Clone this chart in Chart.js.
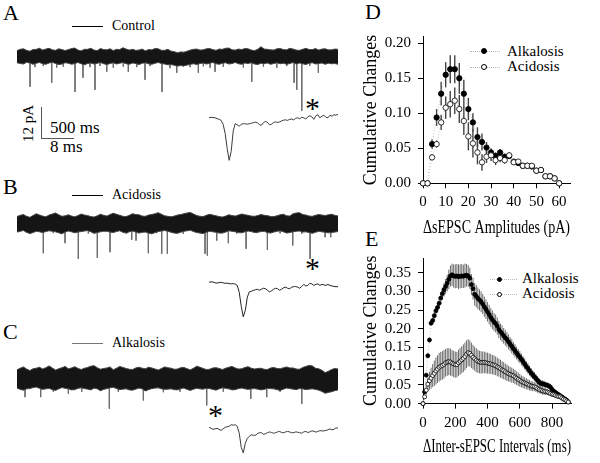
<!DOCTYPE html>
<html>
<head>
<meta charset="utf-8">
<script src="https://cdn.jsdelivr.net/npm/chart.js@4.4.1/dist/chart.umd.min.js"></script>
<style>
  html, body { margin: 0; padding: 0; background: #fff; }
  #fig { position: relative; width: 600px; height: 463px; overflow: hidden;
         font-family: 'Liberation Serif', 'Times New Roman', serif; color: #000; }
  #fig canvas { position: absolute; }
  .t { position: absolute; white-space: nowrap; line-height: 1; }
  .panel { font-size: 22px; }
  .cond { font-size: 14px; }
  .star { font-size: 30px; }
  .bar { font-size: 17px; }
  .lg { font-size: 15px; }
  .hl { position: absolute; height: 0; border-top: 1px solid #000; }
  .vl { position: absolute; width: 0; border-left: 1px solid #555; }
  .dots { position: absolute; height: 0; border-top: 1px dotted #b8b8b8; }
  .dot { position: absolute; border-radius: 50%; box-sizing: border-box; border: 1px solid #000; }
</style>
</head>
<body>
<div id="fig">
  <div class="t panel" style="left:3px;top:2px">A</div>
  <div class="t panel" style="left:3px;top:176px">B</div>
  <div class="t panel" style="left:3px;top:321px">C</div>
  <div class="t panel" style="left:365px;top:1px">D</div>
  <div class="t panel" style="left:365px;top:228px">E</div>

  <div class="hl" style="left:72px;top:26px;width:31px"></div>
  <div class="t cond" style="left:112px;top:19px">Control</div>
  <div class="hl" style="left:72px;top:195px;width:31px"></div>
  <div class="t cond" style="left:112px;top:188px">Acidosis</div>
  <div class="hl" style="left:72px;top:343px;width:31px;border-color:#777"></div>
  <div class="t cond" style="left:112px;top:336px">Alkalosis</div>

  <div class="t star" style="left:305px;top:93px">*</div>
  <div class="t star" style="left:305px;top:253px">*</div>
  <div class="t star" style="left:208px;top:400px">*</div>

  <div class="vl" style="left:41px;top:107px;height:31px"></div>
  <div class="hl" style="left:41px;top:138px;width:33px;border-color:#555"></div>
  <div class="t bar" style="left:50px;top:119px">500 ms</div>
  <div class="t bar" style="left:50px;top:138px">8 ms</div>
  <div class="t" style="left:8px;top:116px;width:40px;font-size:15px;text-align:center;transform:rotate(-90deg)">12 pA</div>

  <div class="dots" style="left:470px;top:51px;width:30px"></div>
  <div class="dot" style="left:481px;top:48px;width:6px;height:6px;background:#000"></div>
  <div class="t lg" style="left:507px;top:44px">Alkalosis</div>
  <div class="dots" style="left:470px;top:67px;width:30px"></div>
  <div class="dot" style="left:481px;top:64px;width:6px;height:6px;background:#fff"></div>
  <div class="t lg" style="left:507px;top:59px">Acidosis</div>

  <div class="dots" style="left:490px;top:279px;width:27px"></div>
  <div class="dot" style="left:497px;top:277px;width:5px;height:5px;background:#000"></div>
  <div class="t lg" style="left:522px;top:271px">Alkalosis</div>
  <div class="dots" style="left:490px;top:294px;width:27px"></div>
  <div class="dot" style="left:497px;top:292px;width:5px;height:5px;background:#fff"></div>
  <div class="t lg" style="left:522px;top:286px">Acidosis</div>

  <canvas id="traceA" width="321" height="88" style="left:17px;top:31px"></canvas>
  <canvas id="traceB" width="321" height="88" style="left:17px;top:198px"></canvas>
  <canvas id="traceC" width="321" height="88" style="left:17px;top:353px"></canvas>
  <canvas id="insetA" width="129" height="57" style="left:209px;top:108px"></canvas>
  <canvas id="insetB" width="129" height="57" style="left:209px;top:272px"></canvas>
  <canvas id="insetC" width="129" height="57" style="left:209px;top:418px"></canvas>
  <canvas id="chartD" width="240" height="240" style="left:360px;top:0px"></canvas>
  <canvas id="chartE" width="240" height="223" style="left:360px;top:240px"></canvas>
</div>
<script>
// ---- traces (5 s sweeps, pA), noise envelope every 50 ms ----
const traceMs = 5000
const envStepMs = 50

const controlUpper = [2.4,2.9,3.1,2.5,2.2,2.8,2.9,3.3,2.6,3.0,3.3,2.7,2.5,3.1,2.8,2.4,2.8,3.2,3.4,2.6,2.3,2.9,2.9,3.3,2.6,2.4,3.2,2.8,2.7,3.1,2.4,2.9,2.8,3.5,3.0,2.6,2.9,2.5,2.6,3.0,2.3,2.8,2.7,3.2,3.1,2.5,2.5,2.9,2.2,2.0,1.6,1.9,1.8,2.2,2.6,2.9,3.0,2.6,2.7,3.1,3.2,2.8,2.5,3.0,2.9,3.3,3.4,2.7,2.6,3.0,2.8,3.2,3.1,2.6,2.4,2.9,3.9,3.0,2.9,2.7,2.6,3.1,3.2,2.8,2.7,3.3,3.0,2.6,2.5,2.9,3.3,2.8,2.8,3.2,2.6,3.0,3.1,2.7,2.7,3.0,2.9]
const controlLower = [-2.3,-2.6,-2.8,-2.1,-2.4,-2.9,-2.5,-2.2,-2.7,-2.9,-2.4,-2.1,-2.6,-3.0,-2.8,-2.3,-2.5,-2.9,-2.6,-2.2,-2.7,-3.1,-2.6,-2.4,-2.8,-2.5,-2.2,-2.7,-3.0,-2.6,-2.3,-2.8,-2.5,-2.2,-2.7,-2.9,-2.4,-2.6,-3.0,-2.5,-2.3,-2.7,-2.9,-2.5,-2.2,-2.6,-2.8,-3.1,-3.0,-3.3,-3.6,-3.4,-3.5,-3.2,-2.9,-2.7,-3.0,-2.6,-2.4,-2.8,-2.5,-2.2,-2.7,-2.9,-2.5,-2.3,-2.8,-2.6,-2.2,-2.7,-2.9,-2.4,-2.6,-2.3,-2.8,-3.0,-2.5,-2.7,-2.4,-2.9,-2.6,-2.3,-2.7,-2.5,-2.9,-2.6,-2.2,-2.8,-2.4,-2.7,-3.0,-2.5,-2.3,-2.8,-2.6,-2.4,-2.9,-2.5,-2.7,-2.6,-2.9]
const controlSpikeMs = [203,280,410,541,618,721,904,1028,1137,1215,1293,1398,1500,1656,1734,1865,1994,2072,2259,2384,2488,2591,2695,2825,2903,3007,3085,3214,3526,3657,3838,4046,4202,4316,4358,4436,4560,4694]
const controlSpikePA = [11.6,4.0,3.6,10.1,4.2,3.8,13.6,8.1,4.0,12.8,3.5,5.8,4.2,3.8,5.8,4.0,8.9,3.6,13.6,4.4,6.2,3.8,4.0,6.2,3.7,4.2,5.8,3.9,4.1,9.7,3.8,4.3,3.6,10.1,12.8,20.9,3.5,6.2]

const acidUpper = [2.8,3.3,3.6,2.9,2.5,3.2,3.9,3.4,3.0,2.7,3.4,3.8,4.2,3.5,2.9,3.1,3.5,3.0,2.7,3.2,3.8,3.4,3.2,2.8,2.6,3.1,3.7,3.3,3.0,3.6,4.1,3.7,3.3,2.9,2.8,3.3,3.9,3.6,3.5,3.0,2.9,3.4,3.6,3.9,4.3,3.7,3.1,2.9,2.7,3.0,3.4,3.6,3.9,4.2,4.4,3.8,3.2,2.9,2.8,3.3,3.7,3.4,3.1,2.8,2.6,3.0,3.5,3.2,3.0,3.4,3.8,3.5,3.3,3.0,2.9,3.2,3.6,3.3,3.2,2.8,2.8,3.1,3.5,3.7,3.1,3.0,3.9,4.2,4.3,3.6,3.4,3.0,2.9,3.3,3.6,3.4,3.2,3.5,3.7,3.3,3.0]
const acidLower = [-3.2,-2.9,-2.6,-3.3,-3.8,-3.4,-2.9,-3.1,-3.4,-3.0,-2.7,-2.9,-3.1,-3.5,-3.9,-3.2,-2.8,-3.1,-3.5,-3.2,-3.0,-2.8,-2.6,-3.1,-3.7,-3.4,-3.1,-2.9,-2.9,-3.2,-3.4,-3.0,-2.7,-3.3,-3.6,-3.1,-2.8,-3.2,-3.6,-3.3,-3.2,-3.6,-3.9,-3.4,-3.0,-2.8,-2.6,-2.9,-3.3,-3.6,-3.7,-3.3,-2.9,-2.7,-2.5,-3.0,-3.4,-3.6,-3.8,-3.3,-2.9,-3.1,-3.3,-3.6,-3.6,-3.2,-2.7,-2.9,-3.1,-3.4,-3.5,-3.1,-2.8,-3.0,-3.4,-3.3,-3.0,-2.9,-3.4,-3.6,-3.2,-2.9,-2.7,-3.1,-3.6,-3.4,-3.1,-2.9,-2.8,-3.2,-3.1,-3.4,-3.7,-3.3,-2.9,-3.1,-3.3,-3.5,-3.4,-3.2,-3.0]
const acidSpikeMs = [151,410,566,748,955,1111,1251,1449,1709,1787,1854,2046,2176,2254,2342,2591,2929,2965,3111,3292,3423,3568,3735,3900,4098,4295,4436,4565,4799,4887]
const acidSpikePA = [3.5,11.4,3.6,7.5,13.6,3.8,13.2,11.0,3.7,6.2,6.5,11.4,3.6,11.6,11.6,3.9,11.6,12.3,6.5,7.5,3.8,9.7,3.6,10.1,3.7,8.4,3.8,13.6,5.2,5.2]

const alkUpper = [3.5,4.1,4.6,3.8,3.2,3.9,4.1,4.5,3.8,4.3,5.0,4.2,3.4,3.9,4.3,4.8,3.9,4.2,4.7,4.0,3.6,4.1,4.4,4.9,5.1,4.3,3.7,4.0,4.2,4.6,3.5,4.1,4.8,4.4,4.0,3.7,3.6,4.2,4.5,4.1,3.9,4.5,4.2,3.8,3.4,4.0,4.6,4.3,4.1,3.7,3.8,4.3,4.4,3.9,3.5,4.1,4.9,4.5,4.0,3.6,3.7,4.2,4.3,4.0,3.6,4.1,4.5,4.8,4.2,3.8,3.9,4.4,4.7,4.1,3.8,4.0,4.1,3.7,3.6,4.2,4.4,4.0,3.9,4.3,4.6,4.2,4.2,3.8,3.7,4.4,4.8,5.2,5.0,4.1,3.9,3.3,2.4,2.9,3.6,4.0,3.8]
const alkLower = [-3.6,-4.1,-4.4,-3.9,-3.8,-3.4,-3.2,-3.7,-4.1,-3.9,-3.7,-4.2,-4.5,-3.9,-3.4,-3.7,-3.9,-4.3,-4.2,-3.7,-3.5,-3.8,-4.0,-4.3,-3.6,-3.9,-4.6,-4.1,-3.8,-3.5,-3.3,-3.8,-4.2,-4.0,-3.9,-4.3,-4.4,-4.0,-3.6,-3.9,-4.7,-4.2,-3.8,-3.6,-3.5,-3.9,-4.1,-4.0,-3.9,-4.2,-4.3,-3.8,-3.6,-4.1,-4.5,-4.0,-3.7,-3.9,-4.0,-3.7,-3.8,-4.1,-4.4,-3.9,-3.5,-3.7,-3.9,-4.3,-4.2,-3.8,-3.6,-3.9,-4.1,-3.9,-3.8,-4.0,-4.3,-4.1,-3.7,-3.8,-3.9,-4.2,-4.5,-4.0,-3.6,-3.8,-4.0,-4.2,-3.8,-3.9,-4.2,-4.0,-3.9,-4.1,-4.4,-4.9,-5.6,-5.3,-5.0,-4.6,-4.3]
const alkSpikeMs = [125,369,566,800,1008,1438,1578,1968,2280,2540,2955,3214,3641,3890,4098,4436,4825]
const alkSpikePA = [7.1,7.1,5.0,5.8,5.0,11.6,5.0,8.4,5.2,5.0,10.3,5.0,7.8,7.1,5.0,9.7,4.5]

// ---- single events marked by *, 32 ms, 0.5 ms per sample ----
const insetStepMs = 0.5
const controlEvent = [0.2,0.4,0.3,0.2,-0.1,-0.4,-0.8,-2.3,-5.8,-11.6,-16.3,-12.8,-5.0,-2.1,-2.5,-3.1,-2.3,-2.1,-2.1,-2.3,-2.1,-1.9,-1.7,-1.5,-1.7,-2.5,-2.7,-1.7,-1.2,-1.6,-2.5,-2.3,-1.6,-1.4,-1.6,-1.4,-1.0,-0.7,-0.6,-0.8,-0.4,-0.3,-0.6,0,0.2,-0.2,0.4,0.2,-0.3,0.6,1.0,0.6,-0.4,1.0,1.4,0.2,0.8,1.2,0.4,0.2,1.2,0.8,1.4,1.2,1.6]
const acidEvent = [0,0.2,0.1,-0.2,-0.3,-0.1,0,-0.2,-0.4,-0.3,-0.5,-0.6,-0.5,-0.7,-1.2,-3.9,-9.3,-13.4,-10.9,-5.8,-3.7,-3.5,-3.1,-2.9,-2.7,-3.1,-2.7,-2.3,-2.5,-3.1,-3.7,-3.3,-2.7,-2.3,-2.5,-3.1,-2.7,-2.1,-1.9,-2.3,-2.5,-1.9,-1.7,-1.6,-1.9,-2.3,-1.6,-0.8,-1.4,-1.2,-0.4,-0.6,-1.2,-0.8,-0.6,-1.2,-0.8,-1.0,-1.2,-0.8,-1.2,-1.4,-1.6,-1.7,-1.7]
const alkEvent = [0.4,0,-0.4,-0.2,0,-0.4,-0.8,-0.2,0.4,0.6,0.8,1.4,1.2,1.4,0.8,-1.9,-7.4,-9.5,-5.8,-3.9,-3.1,-2.5,-2.7,-2.7,-2.1,-1.7,-1.7,-2.3,-2.1,-1.7,-1.4,-1.6,-1.9,-1.7,-1.4,-1.2,-1.6,-1.7,-1.4,-1.2,-1.4,-1.7,-1.7,-1.4,-1.5,-1.7,-1.9,-1.4,-1.2,-1.6,-1.4,-1.0,-1.1,-1.5,-1.2,-0.9,-1.0,-1.0,-0.8,-0.6,-0.2,-0.6,-0.4,0.2,0]

// ---- D: cumulative change of sEPSC amplitudes ----
const ampBins = [0,2,4,6,8,10,12,14,16,18,20,22,24,26,28,30,32,34,36,38,40,42,44,46,48,50,52,54,56,58,60]
const ampAlk = [0,0,0.056,0.094,0.128,0.155,0.163,0.163,0.150,0.128,0.106,0.087,0.066,0.059,0.051,0.044,0.039,0.044,0.038,0.039,0.031,0.029,0.025,0.025,0.024,0.018,0.019,0.010,0.010,0.007,0]
const ampAlkErr = [0,0,0.007,0.012,0.017,0.018,0.020,0.020,0.022,0.020,0.016,0.013,0.014,0.012,0.008,0.006,0.005,0.005,0.004,0.003,0.003,0.003,0.004,0.003,0.003,0.002,0.002,0.002,0.002,0.002,0]
const ampAcid = [0,0,0.037,0.056,0.087,0.108,0.113,0.118,0.106,0.089,0.067,0.057,0.044,0.030,0.038,0.040,0.033,0.036,0.033,0.040,0.030,0.031,0.025,0.025,0.025,0.018,0.019,0.010,0.010,0.007,0]
const ampAcidErr = [0,0,0.004,0.005,0.011,0.016,0.019,0.019,0.020,0.020,0.020,0.020,0.017,0.012,0.009,0.008,0.007,0.006,0.005,0.004,0.003,0.003,0.003,0.003,0.003,0.002,0.002,0.002,0.002,0.002,0]
const ampTicks = [0,10,20,30,40,50,60]
const ampChangeTicks = [0,0.05,0.10,0.15,0.20]

// ---- E: cumulative change of inter-event intervals, 10 ms bins ----
const intervalMs = Array.from({length: 91}, (_, i) => i * 10)
const intAlk = [0,0.031,0.076,0.128,0.170,0.215,0.222,0.235,0.248,0.257,0.268,0.282,0.294,0.304,0.313,0.322,0.332,0.341,0.344,0.341,0.340,0.341,0.339,0.340,0.341,0.340,0.342,0.343,0.341,0.335,0.318,0.307,0.292,0.287,0.281,0.277,0.272,0.266,0.259,0.252,0.245,0.238,0.230,0.224,0.218,0.214,0.207,0.198,0.192,0.187,0.181,0.176,0.171,0.165,0.159,0.153,0.147,0.141,0.135,0.129,0.124,0.118,0.112,0.106,0.099,0.094,0.088,0.082,0.077,0.072,0.067,0.062,0.057,0.054,0.053,0.052,0.050,0.049,0.047,0.044,0.038,0.033,0.030,0.027,0.024,0.021,0.018,0.015,0.012,0.009,0.005]
const intAlkErr = [0.002,0.003,0.004,0.005,0.006,0.007,0.008,0.009,0.010,0.011,0.012,0.014,0.016,0.018,0.020,0.022,0.026,0.028,0.030,0.031,0.032,0.032,0.033,0.032,0.032,0.031,0.032,0.030,0.029,0.028,0.028,0.029,0.030,0.030,0.029,0.028,0.028,0.027,0.027,0.026,0.026,0.026,0.025,0.025,0.024,0.024,0.023,0.023,0.022,0.022,0.021,0.021,0.020,0.020,0.019,0.019,0.018,0.018,0.017,0.017,0.016,0.016,0.015,0.015,0.014,0.014,0.013,0.013,0.012,0.012,0.011,0.011,0.010,0.010,0.009,0.009,0.008,0.008,0.007,0.007,0.006,0.006,0.006,0.005,0.005,0.004,0.004,0.003,0.003,0.002,0.002]
const intAcid = [0,0.018,0.036,0.052,0.061,0.068,0.075,0.081,0.087,0.092,0.097,0.100,0.102,0.105,0.109,0.111,0.112,0.111,0.108,0.106,0.104,0.104,0.109,0.113,0.117,0.121,0.126,0.132,0.136,0.134,0.129,0.124,0.120,0.116,0.113,0.111,0.110,0.110,0.110,0.109,0.108,0.107,0.106,0.104,0.103,0.101,0.098,0.096,0.093,0.090,0.088,0.085,0.082,0.080,0.078,0.076,0.074,0.071,0.068,0.065,0.062,0.059,0.057,0.055,0.053,0.051,0.049,0.047,0.046,0.045,0.043,0.040,0.038,0.036,0.034,0.033,0.032,0.031,0.029,0.027,0.025,0.024,0.022,0.020,0.019,0.018,0.015,0.012,0.010,0.007,0.004]
const intAcidErr = [0.002,0.006,0.012,0.018,0.024,0.028,0.031,0.034,0.036,0.037,0.038,0.038,0.038,0.038,0.037,0.037,0.036,0.036,0.035,0.035,0.035,0.034,0.035,0.036,0.036,0.037,0.037,0.037,0.036,0.035,0.034,0.033,0.032,0.032,0.031,0.030,0.030,0.029,0.029,0.028,0.028,0.027,0.027,0.026,0.026,0.025,0.025,0.024,0.024,0.023,0.023,0.022,0.022,0.021,0.020,0.020,0.019,0.019,0.018,0.018,0.017,0.016,0.016,0.015,0.015,0.014,0.014,0.013,0.013,0.012,0.012,0.011,0.011,0.010,0.010,0.009,0.009,0.008,0.008,0.007,0.007,0.006,0.006,0.005,0.005,0.004,0.004,0.003,0.003,0.002,0.002]
const intTicks = [0,200,400,600,800]
const intChangeTicks = [0,0.05,0.10,0.15,0.20,0.25,0.30,0.35]

Chart.defaults.font.family = "'Liberation Serif', 'Times New Roman', serif"
Chart.defaults.color = '#000'

const bare = (xmin, xmax, ymin, ymax) => ({
    responsive: false,
    animation: false,
    events: [],
    layout: { padding: 0 },
    plugins: { legend: { display: false }, tooltip: { enabled: false } },
    scales: {
        x: { type: 'linear', display: false, min: xmin, max: xmax },
        y: { display: false, min: ymin, max: ymax }
    }
})

const drawTrace = (id, upper, lower, spikeMs, spikePA) => {
    const env = vals => vals.map((y, i) => ({ x: i * envStepMs, y }))
    const spikes = []
    spikeMs.forEach((t, i) => {
        spikes.push({ x: t, y: -1 }, { x: t, y: -spikePA[i] }, { x: t, y: null })
    })
    new Chart(id, {
        type: 'line',
        data: { datasets: [
            { data: env(upper), borderColor: '#444', borderWidth: 1, pointRadius: 0, fill: false },
            { data: env(lower), borderColor: '#444', borderWidth: 1, pointRadius: 0, fill: '-1', backgroundColor: '#151515' },
            { data: spikes, borderColor: '#6e6e6e', borderWidth: 1, pointRadius: 0, spanGaps: false }
        ] },
        options: bare(0, traceMs, -24.1, 10)
    })
}

const drawInset = (id, values, color) => {
    new Chart(id, {
        type: 'line',
        data: { datasets: [{
            data: values.map((y, i) => ({ x: i * insetStepMs, y })),
            borderColor: color, borderWidth: 1, pointRadius: 0
        }] },
        options: bare(0, 32, -18.1, 4)
    })
}

// vertical SEM bars, drawn under the markers
const errorBars = {
    id: 'errorBars',
    beforeDatasetsDraw(chart) {
        const { ctx, scales: { x, y } } = chart
        chart.data.datasets.forEach(ds => {
            if (!ds.errors) return
            ctx.save()
            ctx.strokeStyle = ds.errorColor
            ctx.lineWidth = ds.errorWidth
            ds.data.forEach((p, j) => {
                const e = ds.errors[j]
                if (!e) return
                const px = x.getPixelForValue(p.x)
                ctx.beginPath()
                ctx.moveTo(px, y.getPixelForValue(p.y - e))
                ctx.lineTo(px, y.getPixelForValue(p.y + e))
                ctx.stroke()
            })
            ctx.restore()
        })
    }
}

const pts = (xs, ys) => xs.map((x, i) => ({ x, y: ys[i] }))

const series = (data, errors, filled, radius, errColor, errWidth) => ({
    data, errors, errorColor: errColor, errorWidth: errWidth,
    borderColor: '#c4c4c4', borderWidth: 1, borderDash: [1, 2],
    pointRadius: radius, pointBorderWidth: 0.8, pointBorderColor: '#000',
    pointBackgroundColor: filled ? '#000' : '#fff', clip: false
})

const axes = (xmax, xticks, xtitle, ymax, yticks, xHeight) => ({
    x: {
        type: 'linear', min: 0, max: xmax,
        afterBuildTicks: s => { s.ticks = xticks.map(value => ({ value })) },
        afterFit: s => { s.height = xHeight },
        ticks: { padding: 5, font: { size: 15 }, color: '#000', maxRotation: 0, autoSkip: false },
        grid: { drawOnChartArea: false, tickLength: 5, color: '#000' },
        border: { color: '#000', width: 1 },
        title: { display: true, text: xtitle, font: { size: 18 }, color: '#000', padding: 0 }
    },
    y: {
        min: 0, max: ymax,
        afterBuildTicks: s => { s.ticks = yticks.map(value => ({ value })) },
        afterFit: s => { s.width = 63 },
        ticks: { padding: 7, font: { size: 15 }, color: '#000', autoSkip: false, callback: v => v.toFixed(2) },
        grid: { drawOnChartArea: false, tickLength: 5, color: '#000' },
        border: { color: '#000', width: 1 },
        title: { display: true, text: 'Cumulative Changes', font: { size: 18 }, color: '#000', padding: 0 }
    }
})

const plotOptions = (padding, scales) => ({
    responsive: false, animation: false, events: [],
    layout: { padding },
    plugins: { legend: { display: false }, tooltip: { enabled: false } },
    scales
})

const printFigure = () => {
    drawTrace('traceA', controlUpper, controlLower, controlSpikeMs, controlSpikePA)
    drawTrace('traceB', acidUpper, acidLower, acidSpikeMs, acidSpikePA)
    drawTrace('traceC', alkUpper, alkLower, alkSpikeMs, alkSpikePA)
    drawInset('insetA', controlEvent, '#3a3a3a')
    drawInset('insetB', acidEvent, '#222')
    drawInset('insetC', alkEvent, '#3a3a3a')

    new Chart('chartD', {
        type: 'line',
        data: { datasets: [
            series(pts(ampBins, ampAcid), ampAcidErr, false, 2.7, '#444', 1.4),
            series(pts(ampBins, ampAlk), ampAlkErr, true, 2.7, '#444', 1.4)
        ] },
        options: plotOptions({ top: 36.7, right: 30, bottom: 0.7, left: 0 },
            axes(64.8, ampTicks, 'ΔsEPSC Amplitudes (pA)', 0.2094, ampChangeTicks, 56)),
        plugins: [errorBars]
    })

    new Chart('chartE', {
        type: 'line',
        data: { datasets: [
            series(pts(intervalMs, intAcid), intAcidErr, false, 2.0, '#6a6a6a', 1),
            series(pts(intervalMs, intAlk), intAlkErr, true, 2.0, '#6a6a6a', 1)
        ] },
        options: plotOptions({ top: 18, right: 29, bottom: 4.6, left: 0 },
            axes(917, intTicks, 'ΔInter-sEPSC Intervals (ms)', 0.389, intChangeTicks, 54.8)),
        plugins: [errorBars]
    })
}

printFigure()
</script>
</body>
</html>
